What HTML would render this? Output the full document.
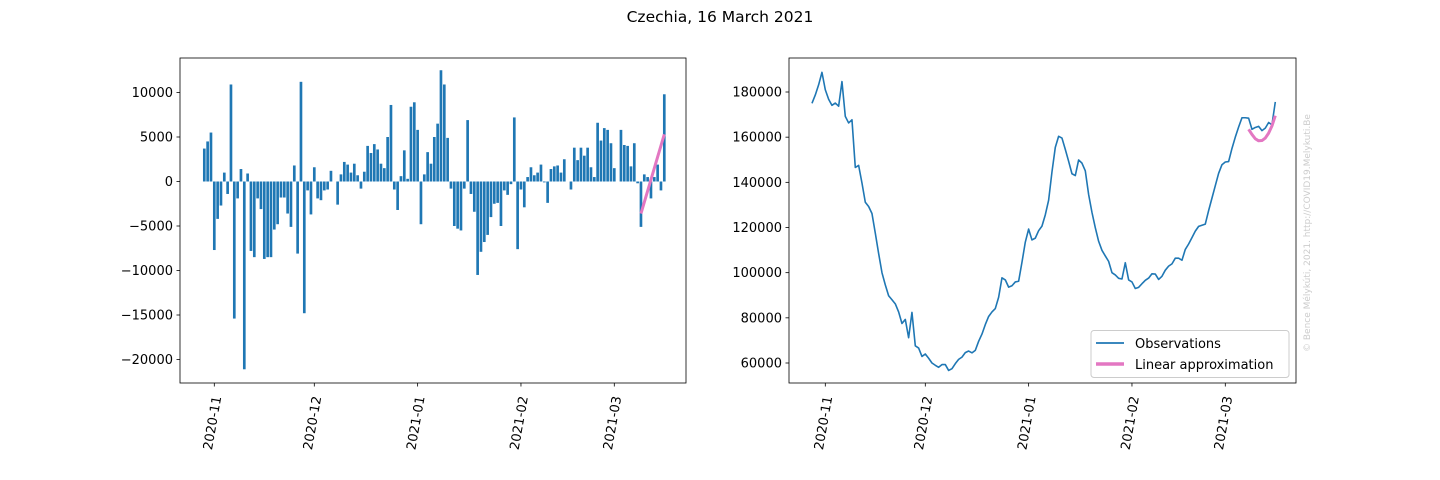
<!DOCTYPE html>
<html><head><meta charset="utf-8"><style>
html,body{margin:0;padding:0;background:#fff;}
svg{display:block;font-family:"DejaVu Sans","Liberation Sans",sans-serif;}
</style></head><body>
<svg id="chart" width="1440" height="480" viewBox="0 0 1440 480" xmlns="http://www.w3.org/2000/svg">
<text x="720" y="22" font-size="15.5" text-anchor="middle" fill="#000">Czechia, 16 March 2021</text>
<g id="left"></g>
<g id="right"></g>
<text transform="translate(1310,352) rotate(-90)" font-size="9" fill="#cccccc">© Bence Mélykúti, 2021. http://COVID19.Melykuti.Be</text>
<g>
<rect x="1091" y="330.5" width="198" height="47" rx="3" fill="#fff" fill-opacity="0.8" stroke="#cccccc"/>
<line x1="1096" y1="343" x2="1124" y2="343" stroke="#1f77b4" stroke-width="1.8"/>
<text x="1135" y="348" font-size="13" fill="#000">Observations</text>
<line x1="1096" y1="364" x2="1124" y2="364" stroke="#e377c2" stroke-width="3.5"/>
<text x="1135" y="369" font-size="13" fill="#000">Linear approximation</text>
</g>
</svg>
<script>
const startDate = "2020-10-29";
const dailyChange = [3.7,4.5,5.5,-7.7,-4.2,-2.7,1.0,-1.4,10.9,-15.4,-1.9,1.4,-21.1,0.9,-7.8,-8.5,-1.9,-3.1,-8.7,-8.5,-8.5,-5.4,-4.8,-1.8,-1.8,-3.6,-5.1,1.8,-8.1,11.2,-14.8,-1.0,-3.7,1.6,-1.9,-2.1,-1.0,-0.9,1.2,0,-2.6,0.8,2.2,1.9,1.0,2.0,0.7,-0.8,1.1,4.0,3.2,4.2,3.6,2.0,1.5,5.0,8.6,-0.9,-3.2,0.6,3.5,0.3,8.4,8.9,5.8,-4.8,0.8,3.3,2.0,5.0,6.5,12.5,10.9,4.9,-0.8,-5.0,-5.3,-5.5,-0.8,6.9,-1.4,-3.4,-10.5,-7.9,-6.8,-6.0,-4.0,-2.5,-2.4,-5.0,-1.0,-1.5,-0.3,7.2,-7.6,-0.9,-2.9,0.5,1.6,0.7,1.0,1.9,-0.1,-2.4,1.4,1.7,1.8,1.0,2.5,0,-0.9,3.8,2.4,3.8,2.9,3.8,1.6,0.5,6.6,4.6,6.0,5.8,4.3,1.5,0,5.8,4.1,4.0,1.7,4.3,-0.2,-5.1,0.8,0.5,-1.9,0.5,1.9,-1.0,9.8];
const lineStartDate = "2020-10-28";
const observations = [175.0,178.7,183.2,188.7,181.0,176.8,174.1,175.1,173.7,184.6,169.2,166.3,167.7,146.6,147.5,139.7,131.2,129.3,126.2,117.5,108.5,100.0,94.6,89.8,88.0,86.2,82.6,77.5,79.3,71.2,82.4,67.6,66.6,62.9,64.0,62.1,60.0,59.0,58.1,59.3,59.3,56.7,57.5,59.7,61.6,62.6,64.6,65.3,64.5,65.6,69.6,72.8,77.0,80.6,82.6,84.1,89.1,97.7,96.8,93.6,94.2,95.9,96.2,104.6,113.5,119.3,114.5,115.3,118.6,120.6,125.6,132.1,144.6,155.5,160.4,159.6,154.6,149.3,143.8,143.0,149.9,148.5,145.1,134.6,126.7,119.9,113.9,109.9,107.4,105.0,100.0,99.0,97.5,97.2,104.4,96.8,95.9,93.0,93.5,95.1,96.6,97.6,99.5,99.4,97.0,98.4,101.1,102.9,103.9,106.4,106.4,105.5,110.3,112.7,115.5,118.4,120.5,121.0,121.5,127.5,133.0,138.5,144.0,147.8,149.0,149.2,155.0,160.0,164.5,168.6,168.6,168.4,163.5,164.3,164.8,162.9,164.0,166.5,165.5,175.6];
const linDiffStart = "2021-03-09";
const linDiff = [-3.6,-2.33,-1.06,0.21,1.49,2.76,4.03,5.3];
const linCumStart = "2021-03-08";
const linCum = [163.5,161.2,159.3,158.4,158.5,159.6,161.8,165.0,169.5];
const xTickLabels = ["2020-11","2020-12","2021-01","2021-02","2021-03"];
const leftYTicks = [-20000,-15000,-10000,-5000,0,5000,10000];
const rightYTicks = [60000,80000,100000,120000,140000,160000,180000];

const NS="http://www.w3.org/2000/svg";
const DAY=86400000;
const t0=Date.parse("2020-11-01");
function dayOf(s){return (Date.parse(s)-t0)/DAY;}
function mk(parent,tag,attrs){const e=document.createElementNS(NS,tag);for(const k in attrs)e.setAttribute(k,attrs[k]);parent.appendChild(e);return e;}

function axes(g,box,xNov,yScale,yTicks,prefix){
  const {x0,x1,y0,y1}=box;
  const xs=d=>xNov+d*3.3333;
  xTickLabels.forEach(lbl=>{
    const x=xs(dayOf(lbl+"-01"));
    const tk=mk(g,"line",{x1:x,y1:y1,x2:x,y2:y1+3.5,stroke:"#000","stroke-width":0.8});
    
    
    const t=mk(g,"text",{transform:`translate(${x+7},${y1+14}) rotate(-80)`,"text-anchor":"end","font-size":13,fill:"#000"});
    t.textContent=lbl;
    
    
  });
  yTicks.forEach(v=>{
    const y=yScale(v);
    const tk=mk(g,"line",{x1:x0-3.5,y1:y,x2:x0,y2:y,stroke:"#000","stroke-width":0.8});
    
    
    const t=mk(g,"text",{x:x0-7,y:y+4.5,"text-anchor":"end","font-size":13,fill:"#000"});
    t.textContent=String(v).replace("-","\u2212");
    
    
  });
  return xs;
}
function frame(g,box,prefix){
  const r=mk(g,"rect",{x:box.x0,y:box.y0,width:box.x1-box.x0,height:box.y1-box.y0,fill:"none",stroke:"#000","stroke-width":0.8});
  
  
}

// LEFT
const L=document.getElementById("left");
const lbox={x0:180,x1:686,y0:58,y1:383};
const ly=v=>181.5-v*0.0089;
const lx=axes(L,lbox,214.3,ly,leftYTicks,"left");
const sd=dayOf(startDate);
dailyChange.forEach((v,i)=>{
  const cx=lx(sd+i), y=ly(v*1000), z=ly(0);
  const b=mk(L,"rect",{x:cx-1.333,y:Math.min(y,z),width:2.667,height:Math.abs(z-y),fill:"#1f77b4"});
  
  
});
const ld=dayOf(linDiffStart);
const lp=mk(L,"polyline",{points:linDiff.map((v,i)=>lx(ld+i)+","+ly(v*1000)).join(" "),fill:"none",stroke:"#e377c2","stroke-width":3,"stroke-linecap":"butt"});


frame(L,lbox,"left");

// RIGHT
const R=document.getElementById("right");
const rbox={x0:789,x1:1296,y0:58,y1:383};
const ry=v=>363-(v-60000)*0.0022583;
const rx=axes(R,rbox,825.3,ry,rightYTicks,"right");
const od=dayOf(lineStartDate);
const ol=mk(R,"polyline",{points:observations.map((v,i)=>rx(od+i)+","+ry(v*1000)).join(" "),fill:"none",stroke:"#1f77b4","stroke-width":1.6,"stroke-linejoin":"round"});


const cd=dayOf(linCumStart);
const cl=mk(R,"polyline",{points:linCum.map((v,i)=>rx(cd+i)+","+ry(v*1000)).join(" "),fill:"none",stroke:"#e377c2","stroke-width":3,"stroke-linejoin":"round"});


frame(R,rbox,"right");
</script>
</body></html>
